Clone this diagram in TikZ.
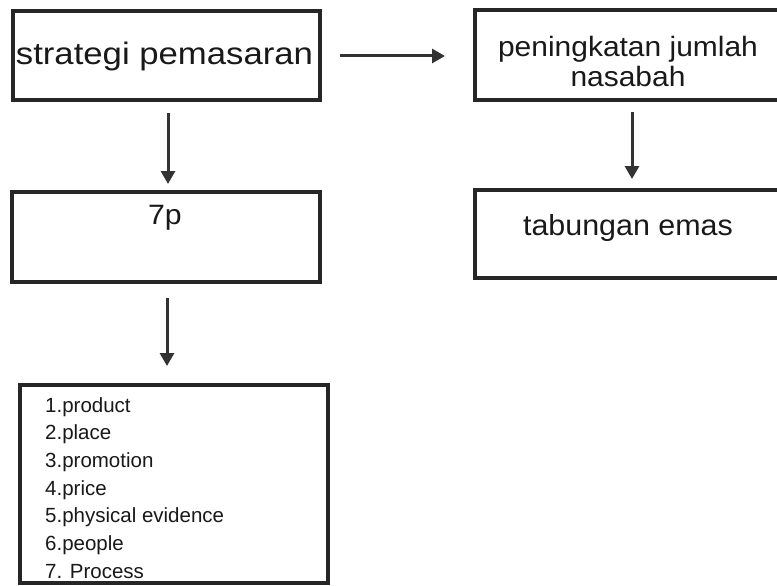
\documentclass[tikz,border=0pt]{standalone}
\usepackage{fontspec}
\setmainfont{Liberation Sans}
\usetikzlibrary{arrows.meta,calc}
\begin{document}
\begin{tikzpicture}[x=1pt,y=-1pt,
  box/.style={draw=black!85,line width=3.2pt,inner sep=0pt,outer sep=0pt},
  lbl/.style={inner sep=0pt,text=black!90},
  arr/.style={draw=black!80,line width=3pt,-{Triangle[length=13pt,width=14pt]}}]
\useasboundingbox (0,0) rectangle (777,586);
\fill[white] (0,0) rectangle (777,586);
% boxes
\node[box,minimum width=307pt,minimum height=89pt] (s) at (166.5,55.5) {};
\node[box,minimum width=307pt,minimum height=90pt] (p) at (628.5,55) {};
\node[box,minimum width=308pt,minimum height=90pt] (q) at (166,237) {};
\node[box,minimum width=307pt,minimum height=88pt] (t) at (628.5,234) {};
\node[box,minimum width=308pt,minimum height=198pt] (l) at (174,484) {};
% texts
\node[lbl,font=\fontsize{31}{34}\selectfont] (st) at (164.5,56) {\scalebox{1.12}[1]{strategi pemasaran}};
\node[lbl,font=\fontsize{28}{30}\selectfont,align=center] (pt) at (628,61) {\scalebox{1.07}[1]{peningkatan jumlah}\\\scalebox{1.07}[1]{nasabah}};
\node[lbl,font=\fontsize{29}{32}\selectfont] (tt) at (628,228) {\scalebox{1.05}[1]{tabungan emas}};
\node[lbl,font=\fontsize{28}{30}\selectfont] (qt) at (165,218) {\scalebox{1.08}[1]{7p}};
\node[lbl,font=\fontsize{20.5}{27.7}\selectfont,align=left,anchor=north west] (lt) at (45,397)
  {1.product\\
   2.place\\
   3.promotion\\
   4.price\\
   5.physical evidence\\
   6.people\\
   7. Process};
% arrows
\draw[arr] ($(s.east)+(20,0.5)$) -- ($(p.west)+(-30,1)$);
\draw[arr] ($(s.south)+(1.5,13)$) -- ($(q.north)+(2,-8)$);
\draw[arr] ($(q.south)+(1,16)$) -- ($(l.north)+(-7,-19)$);
\draw[arr] ($(p.south)+(3.5,12)$) -- ($(t.north)+(3.5,-11)$);
\end{tikzpicture}
\end{document}
